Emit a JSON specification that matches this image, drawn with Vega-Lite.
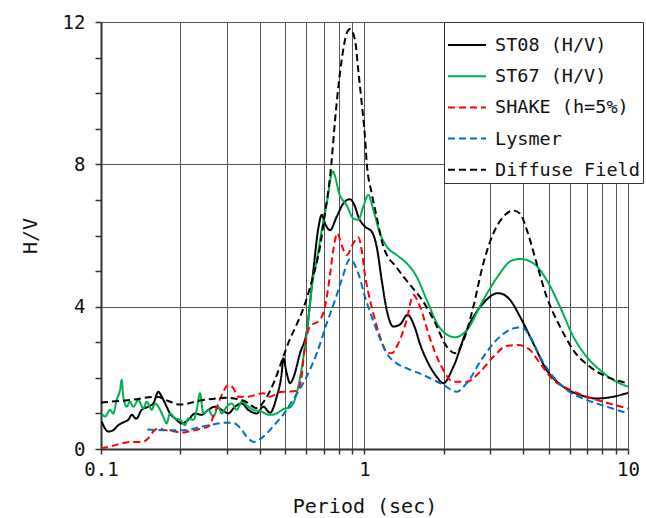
{
  "$schema": "https://vega.github.io/schema/vega-lite/v6.json",
  "width": 527,
  "height": 427,
  "autosize": {"type": "none"},
  "padding": {"left": 101, "top": 22, "right": 18, "bottom": 69},
  "background": "white",
  "config": {
    "view": {"stroke": null},
    "font": "DejaVu Sans Mono",
    "axis": {"labelFont": "DejaVu Sans Mono", "titleFont": "DejaVu Sans Mono", "labelColor": "#111", "titleColor": "#111", "titleFontWeight": "normal"}
  },
  "data": {
    "values": [
      {"s":"ST08 (H/V)","T":0.1006,"v":0.77},{"s":"ST08 (H/V)","T":0.1066,"v":0.49},{"s":"ST08 (H/V)","T":0.1113,"v":0.53},{"s":"ST08 (H/V)","T":0.1163,"v":0.67},{"s":"ST08 (H/V)","T":0.1233,"v":0.77},{"s":"ST08 (H/V)","T":0.1269,"v":0.82},{"s":"ST08 (H/V)","T":0.1308,"v":0.96},{"s":"ST08 (H/V)","T":0.136,"v":0.85},{"s":"ST08 (H/V)","T":0.1427,"v":1.1},{"s":"ST08 (H/V)","T":0.1512,"v":1.19},{"s":"ST08 (H/V)","T":0.158,"v":1.28},{"s":"ST08 (H/V)","T":0.165,"v":1.61},{"s":"ST08 (H/V)","T":0.17,"v":1.47},{"s":"ST08 (H/V)","T":0.1775,"v":1.19},{"s":"ST08 (H/V)","T":0.1827,"v":1.0},{"s":"ST08 (H/V)","T":0.1909,"v":0.86},{"s":"ST08 (H/V)","T":0.2025,"v":0.72},{"s":"ST08 (H/V)","T":0.2144,"v":0.82},{"s":"ST08 (H/V)","T":0.2274,"v":1.0},{"s":"ST08 (H/V)","T":0.2411,"v":0.96},{"s":"ST08 (H/V)","T":0.2554,"v":1.1},{"s":"ST08 (H/V)","T":0.2708,"v":1.19},{"s":"ST08 (H/V)","T":0.2871,"v":1.1},{"s":"ST08 (H/V)","T":0.3042,"v":1.0},{"s":"ST08 (H/V)","T":0.3225,"v":1.19},{"s":"ST08 (H/V)","T":0.342,"v":1.28},{"s":"ST08 (H/V)","T":0.3623,"v":1.1},{"s":"ST08 (H/V)","T":0.3904,"v":1.0},{"s":"ST08 (H/V)","T":0.413,"v":1.19},{"s":"ST08 (H/V)","T":0.438,"v":1.02},{"s":"ST08 (H/V)","T":0.4643,"v":1.47},{"s":"ST08 (H/V)","T":0.485,"v":2.13},{"s":"ST08 (H/V)","T":0.4918,"v":2.55},{"s":"ST08 (H/V)","T":0.5066,"v":2.13},{"s":"ST08 (H/V)","T":0.5215,"v":1.85},{"s":"ST08 (H/V)","T":0.5369,"v":2.0},{"s":"ST08 (H/V)","T":0.5691,"v":2.69},{"s":"ST08 (H/V)","T":0.6034,"v":3.3},{"s":"ST08 (H/V)","T":0.6392,"v":5.0},{"s":"ST08 (H/V)","T":0.6678,"v":6.2},{"s":"ST08 (H/V)","T":0.6881,"v":6.58},{"s":"ST08 (H/V)","T":0.7082,"v":6.34},{"s":"ST08 (H/V)","T":0.7398,"v":6.15},{"s":"ST08 (H/V)","T":0.7845,"v":6.53},{"s":"ST08 (H/V)","T":0.8312,"v":6.9},{"s":"ST08 (H/V)","T":0.881,"v":7.02},{"s":"ST08 (H/V)","T":0.9204,"v":6.81},{"s":"ST08 (H/V)","T":0.9473,"v":6.53},{"s":"ST08 (H/V)","T":1.004,"v":6.25},{"s":"ST08 (H/V)","T":1.065,"v":6.11},{"s":"ST08 (H/V)","T":1.112,"v":5.69},{"s":"ST08 (H/V)","T":1.162,"v":4.75},{"s":"ST08 (H/V)","T":1.214,"v":3.91},{"s":"ST08 (H/V)","T":1.286,"v":3.44},{"s":"ST08 (H/V)","T":1.364,"v":3.5},{"s":"ST08 (H/V)","T":1.456,"v":3.77},{"s":"ST08 (H/V)","T":1.555,"v":3.4},{"s":"ST08 (H/V)","T":1.624,"v":2.95},{"s":"ST08 (H/V)","T":1.722,"v":2.5},{"s":"ST08 (H/V)","T":1.879,"v":2.03},{"s":"ST08 (H/V)","T":1.991,"v":1.85},{"s":"ST08 (H/V)","T":2.174,"v":2.31},{"s":"ST08 (H/V)","T":2.443,"v":3.34},{"s":"ST08 (H/V)","T":2.824,"v":4.1},{"s":"ST08 (H/V)","T":3.22,"v":4.38},{"s":"ST08 (H/V)","T":3.567,"v":4.19},{"s":"ST08 (H/V)","T":3.891,"v":3.72},{"s":"ST08 (H/V)","T":4.372,"v":2.97},{"s":"ST08 (H/V)","T":4.914,"v":2.22},{"s":"ST08 (H/V)","T":5.682,"v":1.75},{"s":"ST08 (H/V)","T":6.575,"v":1.52},{"s":"ST08 (H/V)","T":7.606,"v":1.42},{"s":"ST08 (H/V)","T":8.795,"v":1.47},{"s":"ST08 (H/V)","T":10,"v":1.58},

      {"s":"ST67 (H/V)","T":0.1006,"v":1.0},{"s":"ST67 (H/V)","T":0.1036,"v":0.91},{"s":"ST67 (H/V)","T":0.1082,"v":1.1},{"s":"ST67 (H/V)","T":0.1113,"v":1.0},{"s":"ST67 (H/V)","T":0.1147,"v":1.38},{"s":"ST67 (H/V)","T":0.1181,"v":1.66},{"s":"ST67 (H/V)","T":0.1198,"v":1.94},{"s":"ST67 (H/V)","T":0.1215,"v":1.47},{"s":"ST67 (H/V)","T":0.1252,"v":1.19},{"s":"ST67 (H/V)","T":0.1288,"v":1.33},{"s":"ST67 (H/V)","T":0.1326,"v":1.19},{"s":"ST67 (H/V)","T":0.1386,"v":1.38},{"s":"ST67 (H/V)","T":0.1447,"v":1.14},{"s":"ST67 (H/V)","T":0.1491,"v":1.33},{"s":"ST67 (H/V)","T":0.1557,"v":1.1},{"s":"ST67 (H/V)","T":0.1603,"v":1.28},{"s":"ST67 (H/V)","T":0.1675,"v":1.1},{"s":"ST67 (H/V)","T":0.1723,"v":0.91},{"s":"ST67 (H/V)","T":0.1775,"v":0.72},{"s":"ST67 (H/V)","T":0.1827,"v":1.0},{"s":"ST67 (H/V)","T":0.1909,"v":0.86},{"s":"ST67 (H/V)","T":0.2,"v":0.82},{"s":"ST67 (H/V)","T":0.2084,"v":0.67},{"s":"ST67 (H/V)","T":0.2144,"v":0.86},{"s":"ST67 (H/V)","T":0.2241,"v":0.82},{"s":"ST67 (H/V)","T":0.2308,"v":1.1},{"s":"ST67 (H/V)","T":0.2375,"v":1.57},{"s":"ST67 (H/V)","T":0.2444,"v":1.0},{"s":"ST67 (H/V)","T":0.2554,"v":1.1},{"s":"ST67 (H/V)","T":0.2668,"v":0.91},{"s":"ST67 (H/V)","T":0.2787,"v":1.19},{"s":"ST67 (H/V)","T":0.2871,"v":1.0},{"s":"ST67 (H/V)","T":0.3,"v":1.19},{"s":"ST67 (H/V)","T":0.3133,"v":1.28},{"s":"ST67 (H/V)","T":0.3273,"v":1.1},{"s":"ST67 (H/V)","T":0.342,"v":1.33},{"s":"ST67 (H/V)","T":0.3623,"v":1.19},{"s":"ST67 (H/V)","T":0.3784,"v":1.1},{"s":"ST67 (H/V)","T":0.4073,"v":1.05},{"s":"ST67 (H/V)","T":0.419,"v":1.0},{"s":"ST67 (H/V)","T":0.438,"v":0.96},{"s":"ST67 (H/V)","T":0.4643,"v":1.0},{"s":"ST67 (H/V)","T":0.4918,"v":1.12},{"s":"ST67 (H/V)","T":0.5215,"v":1.17},{"s":"ST67 (H/V)","T":0.5448,"v":1.4},{"s":"ST67 (H/V)","T":0.5691,"v":2.0},{"s":"ST67 (H/V)","T":0.6034,"v":3.25},{"s":"ST67 (H/V)","T":0.6392,"v":4.84},{"s":"ST67 (H/V)","T":0.6586,"v":5.3},{"s":"ST67 (H/V)","T":0.6881,"v":6.15},{"s":"ST67 (H/V)","T":0.7188,"v":6.9},{"s":"ST67 (H/V)","T":0.7575,"v":7.8},{"s":"ST67 (H/V)","T":0.8072,"v":7.12},{"s":"ST67 (H/V)","T":0.8557,"v":6.85},{"s":"ST67 (H/V)","T":0.9068,"v":6.48},{"s":"ST67 (H/V)","T":0.9473,"v":6.44},{"s":"ST67 (H/V)","T":0.9894,"v":6.81},{"s":"ST67 (H/V)","T":1.0337,"v":7.14},{"s":"ST67 (H/V)","T":1.08,"v":6.72},{"s":"ST67 (H/V)","T":1.145,"v":6.06},{"s":"ST67 (H/V)","T":1.214,"v":5.69},{"s":"ST67 (H/V)","T":1.325,"v":5.45},{"s":"ST67 (H/V)","T":1.446,"v":5.22},{"s":"ST67 (H/V)","T":1.578,"v":4.84},{"s":"ST67 (H/V)","T":1.722,"v":4.19},{"s":"ST67 (H/V)","T":1.934,"v":3.4},{"s":"ST67 (H/V)","T":2.205,"v":3.14},{"s":"ST67 (H/V)","T":2.443,"v":3.34},{"s":"ST67 (H/V)","T":2.824,"v":4.19},{"s":"ST67 (H/V)","T":3.268,"v":4.94},{"s":"ST67 (H/V)","T":3.567,"v":5.27},{"s":"ST67 (H/V)","T":3.891,"v":5.34},{"s":"ST67 (H/V)","T":4.372,"v":5.22},{"s":"ST67 (H/V)","T":4.914,"v":4.75},{"s":"ST67 (H/V)","T":5.52,"v":4.0},{"s":"ST67 (H/V)","T":6.2,"v":3.16},{"s":"ST67 (H/V)","T":6.97,"v":2.59},{"s":"ST67 (H/V)","T":7.83,"v":2.22},{"s":"ST67 (H/V)","T":8.795,"v":1.94},{"s":"ST67 (H/V)","T":10,"v":1.75},

      {"s":"SHAKE (h=5%)","T":0.1,"v":0.02},{"s":"SHAKE (h=5%)","T":0.1098,"v":0.08},{"s":"SHAKE (h=5%)","T":0.1198,"v":0.16},{"s":"SHAKE (h=5%)","T":0.1308,"v":0.2},{"s":"SHAKE (h=5%)","T":0.1427,"v":0.2},{"s":"SHAKE (h=5%)","T":0.1512,"v":0.3},{"s":"SHAKE (h=5%)","T":0.158,"v":0.49},{"s":"SHAKE (h=5%)","T":0.165,"v":0.58},{"s":"SHAKE (h=5%)","T":0.175,"v":0.53},{"s":"SHAKE (h=5%)","T":0.1909,"v":0.49},{"s":"SHAKE (h=5%)","T":0.2025,"v":0.46},{"s":"SHAKE (h=5%)","T":0.2144,"v":0.49},{"s":"SHAKE (h=5%)","T":0.2274,"v":0.53},{"s":"SHAKE (h=5%)","T":0.2411,"v":0.58},{"s":"SHAKE (h=5%)","T":0.2554,"v":0.63},{"s":"SHAKE (h=5%)","T":0.2668,"v":0.91},{"s":"SHAKE (h=5%)","T":0.2787,"v":1.28},{"s":"SHAKE (h=5%)","T":0.2912,"v":1.61},{"s":"SHAKE (h=5%)","T":0.3042,"v":1.8},{"s":"SHAKE (h=5%)","T":0.3178,"v":1.71},{"s":"SHAKE (h=5%)","T":0.332,"v":1.47},{"s":"SHAKE (h=5%)","T":0.3572,"v":1.47},{"s":"SHAKE (h=5%)","T":0.386,"v":1.52},{"s":"SHAKE (h=5%)","T":0.413,"v":1.57},{"s":"SHAKE (h=5%)","T":0.438,"v":1.47},{"s":"SHAKE (h=5%)","T":0.4778,"v":1.6},{"s":"SHAKE (h=5%)","T":0.5138,"v":1.61},{"s":"SHAKE (h=5%)","T":0.553,"v":1.63},{"s":"SHAKE (h=5%)","T":0.575,"v":1.95},{"s":"SHAKE (h=5%)","T":0.59,"v":2.7},{"s":"SHAKE (h=5%)","T":0.62,"v":3.44},{"s":"SHAKE (h=5%)","T":0.678,"v":3.63},{"s":"SHAKE (h=5%)","T":0.708,"v":4.0},{"s":"SHAKE (h=5%)","T":0.74,"v":4.9},{"s":"SHAKE (h=5%)","T":0.7615,"v":5.6},{"s":"SHAKE (h=5%)","T":0.7885,"v":6.06},{"s":"SHAKE (h=5%)","T":0.819,"v":5.73},{"s":"SHAKE (h=5%)","T":0.856,"v":5.45},{"s":"SHAKE (h=5%)","T":0.9068,"v":5.78},{"s":"SHAKE (h=5%)","T":0.9473,"v":5.95},{"s":"SHAKE (h=5%)","T":0.975,"v":5.6},{"s":"SHAKE (h=5%)","T":1.004,"v":4.9},{"s":"SHAKE (h=5%)","T":1.0337,"v":4.4},{"s":"SHAKE (h=5%)","T":1.08,"v":3.81},{"s":"SHAKE (h=5%)","T":1.145,"v":3.16},{"s":"SHAKE (h=5%)","T":1.214,"v":2.73},{"s":"SHAKE (h=5%)","T":1.268,"v":2.69},{"s":"SHAKE (h=5%)","T":1.344,"v":2.97},{"s":"SHAKE (h=5%)","T":1.446,"v":3.63},{"s":"SHAKE (h=5%)","T":1.532,"v":4.33},{"s":"SHAKE (h=5%)","T":1.624,"v":4.0},{"s":"SHAKE (h=5%)","T":1.773,"v":3.1},{"s":"SHAKE (h=5%)","T":1.934,"v":2.4},{"s":"SHAKE (h=5%)","T":2.174,"v":1.89},{"s":"SHAKE (h=5%)","T":2.443,"v":1.89},{"s":"SHAKE (h=5%)","T":2.744,"v":2.17},{"s":"SHAKE (h=5%)","T":3.083,"v":2.59},{"s":"SHAKE (h=5%)","T":3.465,"v":2.9},{"s":"SHAKE (h=5%)","T":3.835,"v":2.92},{"s":"SHAKE (h=5%)","T":4.247,"v":2.78},{"s":"SHAKE (h=5%)","T":4.634,"v":2.41},{"s":"SHAKE (h=5%)","T":5.206,"v":1.94},{"s":"SHAKE (h=5%)","T":5.853,"v":1.71},{"s":"SHAKE (h=5%)","T":6.97,"v":1.47},{"s":"SHAKE (h=5%)","T":8.3,"v":1.3},{"s":"SHAKE (h=5%)","T":10,"v":1.14},

      {"s":"Lysmer","T":0.15,"v":0.55},{"s":"Lysmer","T":0.17,"v":0.53},{"s":"Lysmer","T":0.19,"v":0.53},{"s":"Lysmer","T":0.21,"v":0.53},{"s":"Lysmer","T":0.227,"v":0.58},{"s":"Lysmer","T":0.248,"v":0.65},{"s":"Lysmer","T":0.271,"v":0.7},{"s":"Lysmer","T":0.296,"v":0.74},{"s":"Lysmer","T":0.318,"v":0.73},{"s":"Lysmer","T":0.337,"v":0.6},{"s":"Lysmer","T":0.357,"v":0.35},{"s":"Lysmer","T":0.38,"v":0.2},{"s":"Lysmer","T":0.4,"v":0.27},{"s":"Lysmer","T":0.426,"v":0.44},{"s":"Lysmer","T":0.464,"v":0.75},{"s":"Lysmer","T":0.49,"v":0.95},{"s":"Lysmer","T":0.537,"v":1.4},{"s":"Lysmer","T":0.603,"v":2.03},{"s":"Lysmer","T":0.659,"v":2.69},{"s":"Lysmer","T":0.719,"v":3.53},{"s":"Lysmer","T":0.773,"v":4.19},{"s":"Lysmer","T":0.819,"v":4.75},{"s":"Lysmer","T":0.881,"v":5.33},{"s":"Lysmer","T":0.947,"v":4.94},{"s":"Lysmer","T":1.004,"v":4.28},{"s":"Lysmer","T":1.065,"v":3.72},{"s":"Lysmer","T":1.145,"v":3.1},{"s":"Lysmer","T":1.214,"v":2.69},{"s":"Lysmer","T":1.3,"v":2.45},{"s":"Lysmer","T":1.446,"v":2.27},{"s":"Lysmer","T":1.672,"v":2.08},{"s":"Lysmer","T":1.99,"v":1.8},{"s":"Lysmer","T":2.238,"v":1.61},{"s":"Lysmer","T":2.443,"v":1.85},{"s":"Lysmer","T":2.824,"v":2.59},{"s":"Lysmer","T":3.268,"v":3.16},{"s":"Lysmer","T":3.671,"v":3.39},{"s":"Lysmer","T":3.95,"v":3.42},{"s":"Lysmer","T":4.247,"v":3.16},{"s":"Lysmer","T":4.634,"v":2.59},{"s":"Lysmer","T":5.206,"v":2.03},{"s":"Lysmer","T":5.853,"v":1.66},{"s":"Lysmer","T":6.97,"v":1.38},{"s":"Lysmer","T":8.3,"v":1.19},{"s":"Lysmer","T":10,"v":1.0},

      {"s":"Diffuse Field","T":0.1,"v":1.31},{"s":"Diffuse Field","T":0.13,"v":1.38},{"s":"Diffuse Field","T":0.163,"v":1.47},{"s":"Diffuse Field","T":0.18,"v":1.35},{"s":"Diffuse Field","T":0.2,"v":1.25},{"s":"Diffuse Field","T":0.2375,"v":1.36},{"s":"Diffuse Field","T":0.3,"v":1.44},{"s":"Diffuse Field","T":0.35,"v":1.35},{"s":"Diffuse Field","T":0.39,"v":1.15},{"s":"Diffuse Field","T":0.419,"v":1.38},{"s":"Diffuse Field","T":0.457,"v":1.94},{"s":"Diffuse Field","T":0.492,"v":2.6},{"s":"Diffuse Field","T":0.522,"v":3.1},{"s":"Diffuse Field","T":0.553,"v":3.5},{"s":"Diffuse Field","T":0.586,"v":3.95},{"s":"Diffuse Field","T":0.63,"v":4.7},{"s":"Diffuse Field","T":0.678,"v":5.69},{"s":"Diffuse Field","T":0.708,"v":6.62},{"s":"Diffuse Field","T":0.74,"v":7.65},{"s":"Diffuse Field","T":0.784,"v":9.72},{"s":"Diffuse Field","T":0.819,"v":10.93},{"s":"Diffuse Field","T":0.856,"v":11.68},{"s":"Diffuse Field","T":0.881,"v":11.8},{"s":"Diffuse Field","T":0.92,"v":11.5},{"s":"Diffuse Field","T":0.947,"v":10.65},{"s":"Diffuse Field","T":0.976,"v":9.72},{"s":"Diffuse Field","T":1.004,"v":8.78},{"s":"Diffuse Field","T":1.02,"v":8.03},{"s":"Diffuse Field","T":1.065,"v":7.19},{"s":"Diffuse Field","T":1.112,"v":6.53},{"s":"Diffuse Field","T":1.179,"v":5.69},{"s":"Diffuse Field","T":1.325,"v":5.1},{"s":"Diffuse Field","T":1.42,"v":4.8},{"s":"Diffuse Field","T":1.532,"v":4.5},{"s":"Diffuse Field","T":1.65,"v":4.2},{"s":"Diffuse Field","T":1.83,"v":3.63},{"s":"Diffuse Field","T":2.051,"v":2.88},{"s":"Diffuse Field","T":2.205,"v":2.69},{"s":"Diffuse Field","T":2.406,"v":3.16},{"s":"Diffuse Field","T":2.588,"v":4.0},{"s":"Diffuse Field","T":2.825,"v":5.22},{"s":"Diffuse Field","T":3.083,"v":6.06},{"s":"Diffuse Field","T":3.365,"v":6.53},{"s":"Diffuse Field","T":3.671,"v":6.7},{"s":"Diffuse Field","T":3.89,"v":6.62},{"s":"Diffuse Field","T":4.13,"v":6.16},{"s":"Diffuse Field","T":4.5,"v":5.22},{"s":"Diffuse Field","T":4.91,"v":4.28},{"s":"Diffuse Field","T":5.52,"v":3.44},{"s":"Diffuse Field","T":6.2,"v":2.78},{"s":"Diffuse Field","T":7.17,"v":2.31},{"s":"Diffuse Field","T":8.3,"v":2.03},{"s":"Diffuse Field","T":10,"v":1.85}
    ]
  },
  "mark": {"type": "line", "interpolate": "monotone", "clip": true},
  "encoding": {
    "x": {
      "field": "T", "type": "quantitative",
      "scale": {"type": "log", "domain": [0.1, 10], "nice": false},
      "axis": {
        "title": "Period (sec)",
        "values": [0.1,0.2,0.3,0.4,0.5,0.6,0.7,0.8,0.9,1,2,3,4,5,6,7,8,9,10],
        "labelExpr": "datum.value == 0.1 ? '0.1' : (datum.value == 1 ? '1' : (datum.value == 10 ? '10' : ''))",
        "grid": true, "gridColor": "#555", "gridWidth": 1, "gridOpacity": 1,
        "tickSize": 5, "tickColor": "#333", "tickWidth": 1.5,
        "domainColor": "#333", "domainWidth": 2,
        "labelFontSize": 19, "labelPadding": 6, "labelFlush": false, "labelOverlap": false,
        "titleFontSize": 20, "titlePadding": 17
      }
    },
    "y": {
      "field": "v", "type": "quantitative",
      "scale": {"domain": [0, 12], "nice": false},
      "axis": {
        "title": "H/V",
        "values": [0,1,2,3,4,5,6,7,8,9,10,11,12],
        "labelExpr": "datum.value % 4 === 0 ? datum.label : ''",
        "grid": true, "gridColor": "#555", "gridWidth": 1,
        "gridOpacity": {"condition": {"test": "datum.value % 4 === 0 && datum.value > 0", "value": 1}, "value": 0},
        "tickSize": 6, "tickColor": "#333", "tickWidth": 1.5,
        "domainColor": "#333", "domainWidth": 2,
        "labelFontSize": 19, "labelPadding": 10, "labelOverlap": false,
        "titleFontSize": 20, "titlePadding": 22
      }
    },
    "color": {
      "field": "s", "type": "nominal",
      "scale": {"domain": ["ST08 (H/V)","ST67 (H/V)","SHAKE (h=5%)","Lysmer","Diffuse Field"], "range": ["#000000","#00b050","#ff0000","#0070c0","#000000"]},
      "legend": {
        "title": null, "orient": "none", "legendX": 343, "legendY": 0,
        "fillColor": "white", "strokeColor": "#333", "padding": 3,
        "symbolType": "stroke", "symbolSize": 1444, "symbolStrokeWidth": 2.6,
        "labelFont": "DejaVu Sans Mono", "labelFontSize": 18.5, "labelColor": "#111", "labelOffset": 8, "labelLimit": 400,
        "rowPadding": 1.2
      }
    },
    "strokeDash": {
      "field": "s", "type": "nominal",
      "scale": {"domain": ["ST08 (H/V)","ST67 (H/V)","SHAKE (h=5%)","Lysmer","Diffuse Field"], "range": [[1,0],[1,0],[7,4],[7,4],[7,4]]},
      "legend": {
        "title": null, "orient": "none", "legendX": 343, "legendY": 0,
        "fillColor": "white", "strokeColor": "#333", "padding": 3,
        "symbolType": "stroke", "symbolSize": 1444, "symbolStrokeWidth": 2.6,
        "labelFont": "DejaVu Sans Mono", "labelFontSize": 18.5, "labelColor": "#111", "labelOffset": 8, "labelLimit": 400,
        "rowPadding": 1.2
      }
    },
    "strokeWidth": {
      "field": "s", "type": "nominal",
      "scale": {"domain": ["ST08 (H/V)","ST67 (H/V)","SHAKE (h=5%)","Lysmer","Diffuse Field"], "range": [2,2,3.2,3.2,3.4]},
      "legend": null
    }
  }
}
